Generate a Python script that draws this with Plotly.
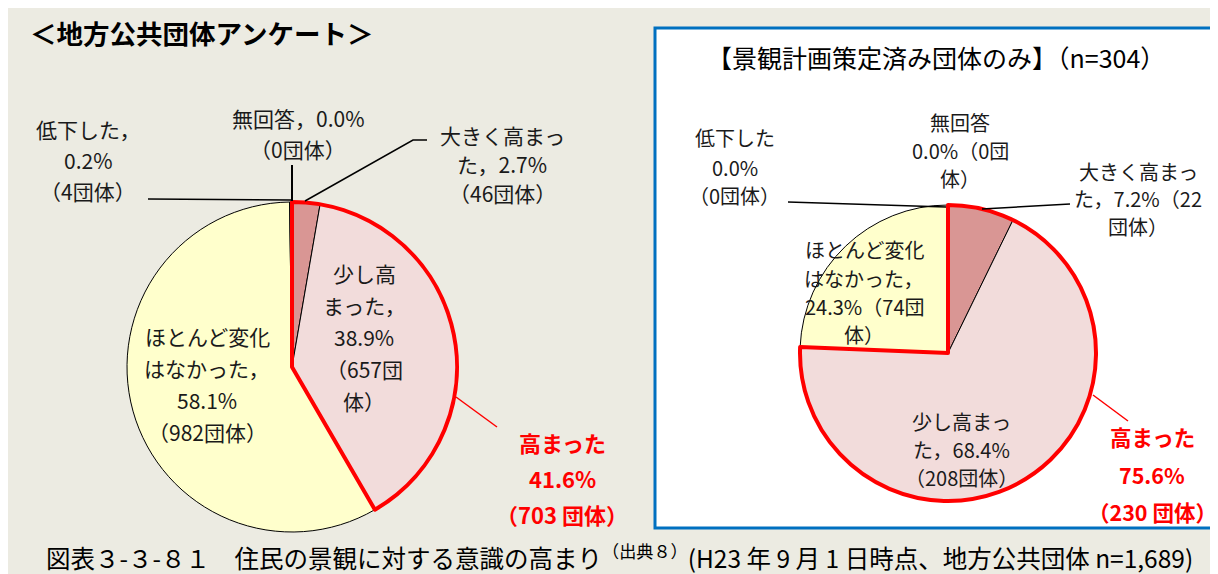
import plotly.graph_objects as go

# the page body adds an 8px margin, so the figure is drawn 8px smaller
OFF = 8
W, H = 1218 - OFF, 574 - OFF
FONT = "Noto Sans CJK JP"

# categories (clockwise from 12 o'clock)
categories = ["大きく高まった", "少し高まった", "ほとんど変化はなかった", "低下した", "無回答"]
colors = ["#d99694", "#f2dcdb", "#ffffcc", "#e0e0e0", "#ffffff"]

# counts for all local governments (n=1,689)
all_counts = [46, 657, 982, 4, 0]
# counts for governments with a landscape plan (n=304)
plan_counts = [22, 208, 74, 0, 0]


def px(x):
    return (x - OFF) / W


def py(y):
    return 1 - (y - OFF) / H


def pie_domain(cx, cy, r):
    return dict(x=[px(cx - r), px(cx + r)], y=[py(cy + r), py(cy - r)])


fig = go.Figure()

# left pie
left_dom = pie_domain(292, 367, 165)
fig.add_trace(go.Pie(labels=categories, values=all_counts, sort=False, direction="clockwise",
                     marker=dict(colors=colors, line=dict(color="black", width=1)),
                     textinfo="none", hoverinfo="skip", domain=left_dom, showlegend=False))
# red outline around the "高まった" part
fig.add_trace(go.Pie(labels=["高まった", "その他"],
                     values=[sum(all_counts[:2]), sum(all_counts[2:])],
                     sort=False, direction="clockwise",
                     marker=dict(colors=["rgba(0,0,0,0)", "rgba(0,0,0,0)"],
                                 line=dict(color=["red", "rgba(0,0,0,0)"], width=[4, 0])),
                     textinfo="none", hoverinfo="skip", domain=left_dom, showlegend=False))

# right pie
right_dom = pie_domain(948, 353, 148)
fig.add_trace(go.Pie(labels=categories, values=plan_counts, sort=False, direction="clockwise",
                     marker=dict(colors=colors, line=dict(color="black", width=1)),
                     textinfo="none", hoverinfo="skip", domain=right_dom, showlegend=False))
fig.add_trace(go.Pie(labels=["高まった", "その他"],
                     values=[sum(plan_counts[:2]), sum(plan_counts[2:])],
                     sort=False, direction="clockwise",
                     marker=dict(colors=["rgba(0,0,0,0)", "rgba(0,0,0,0)"],
                                 line=dict(color=["red", "rgba(0,0,0,0)"], width=[4, 0])),
                     textinfo="none", hoverinfo="skip", domain=right_dom, showlegend=False))

annotations = []


def add_label(lines, x, y0, dy, size=21, color="#1a1a1a", bold=False):
    for i, line in enumerate(lines):
        txt = "<b>%s</b>" % line if bold else line
        annotations.append(dict(text=txt, x=px(x), y=py(y0 + i * dy), xref="paper", yref="paper",
                                xanchor="center", yanchor="middle", showarrow=False,
                                font=dict(family=FONT, size=size, color=color)))


# left labels
add_label(["低下した，", "0.2%", "（4団体）"], 88, 129, 31)
add_label(["無回答，0.0%", "（0団体）"], 298, 118, 31)
add_label(["大きく高まっ", "た，2.7%", "（46団体）"], 502, 135, 29)
add_label(["少し高", "まった，", "38.9%", "（657団", "体）"], 364, 273, 32)
add_label(["ほとんど変化", "はなかった，", "58.1%", "（982団体）"], 207, 336, 32)
add_label(["高まった", "41.6%", "（703 団体）"], 562, 442, 36, size=22, color="red", bold=True)

# right labels
add_label(["低下した", "0.0%", "（0団体）"], 735, 138, 29, size=20)
add_label(["無回答", "0.0%（0団", "体）"], 960, 122, 28, size=20)
add_label(["大きく高まっ", "た，7.2%（22", "団体）"], 1138, 171, 28, size=20)
add_label(["ほとんど変化", "はなかった，", "24.3%（74団", "体）"], 864, 250, 28, size=20)
add_label(["少し高まっ", "た，68.4%", "（208団体）"], 962, 421, 28, size=20)
add_label(["高まった", "75.6%", "（230 団体）"], 1152, 437, 37, size=21.5, color="red", bold=True)

# titles
annotations.append(dict(text="<b>＜地方公共団体アンケート＞</b>", x=px(28), y=py(33), xref="paper",
                        yref="paper", xanchor="left", yanchor="middle", showarrow=False,
                        font=dict(family=FONT, size=26.5, color="black")))
annotations.append(dict(text="【景観計画策定済み団体のみ】（n=304）", x=px(936), y=py(57), xref="paper",
                        yref="paper", xanchor="center", yanchor="middle", showarrow=False,
                        font=dict(family=FONT, size=25, color="black")))
annotations.append(dict(text="図表３-３-８１　住民の景観に対する意識の高まり<sup>（出典８）</sup>"
                             "(H23 年 9 月 1 日時点、地方公共団体 n=1,689)",
                        x=px(619), y=py(556), xref="paper", yref="paper", xanchor="center",
                        yanchor="middle", showarrow=False,
                        font=dict(family=FONT, size=24.5, color="black")))

shapes = [
    dict(type="rect", xref="paper", yref="paper", x0=px(655), x1=px(1224), y0=py(528), y1=py(28),
         fillcolor="white", line=dict(color="#0070c0", width=3), layer="below"),
]


def leader(points, color="black", width=1.5):
    path = "M " + " L ".join("%f,%f" % (px(a), py(b)) for a, b in points)
    shapes.append(dict(type="path", xref="paper", yref="paper", path=path,
                       line=dict(color=color, width=width)))


leader([(148, 199), (291, 200)])
leader([(292, 165), (292, 201)], width=2)
leader([(305, 201), (413, 140), (427, 140)])
leader([(456, 397), (497, 427)], color="red")
leader([(788, 202), (946, 207)])
leader([(982, 209), (1070, 204)])
leader([(1093, 395), (1128, 421)], color="red")

fig.update_layout(width=W, height=H, margin=dict(l=0, r=0, t=0, b=0),
                  paper_bgcolor="#ecebe2", plot_bgcolor="#ecebe2",
                  annotations=annotations, shapes=shapes)

fig.write_html("out.html")
